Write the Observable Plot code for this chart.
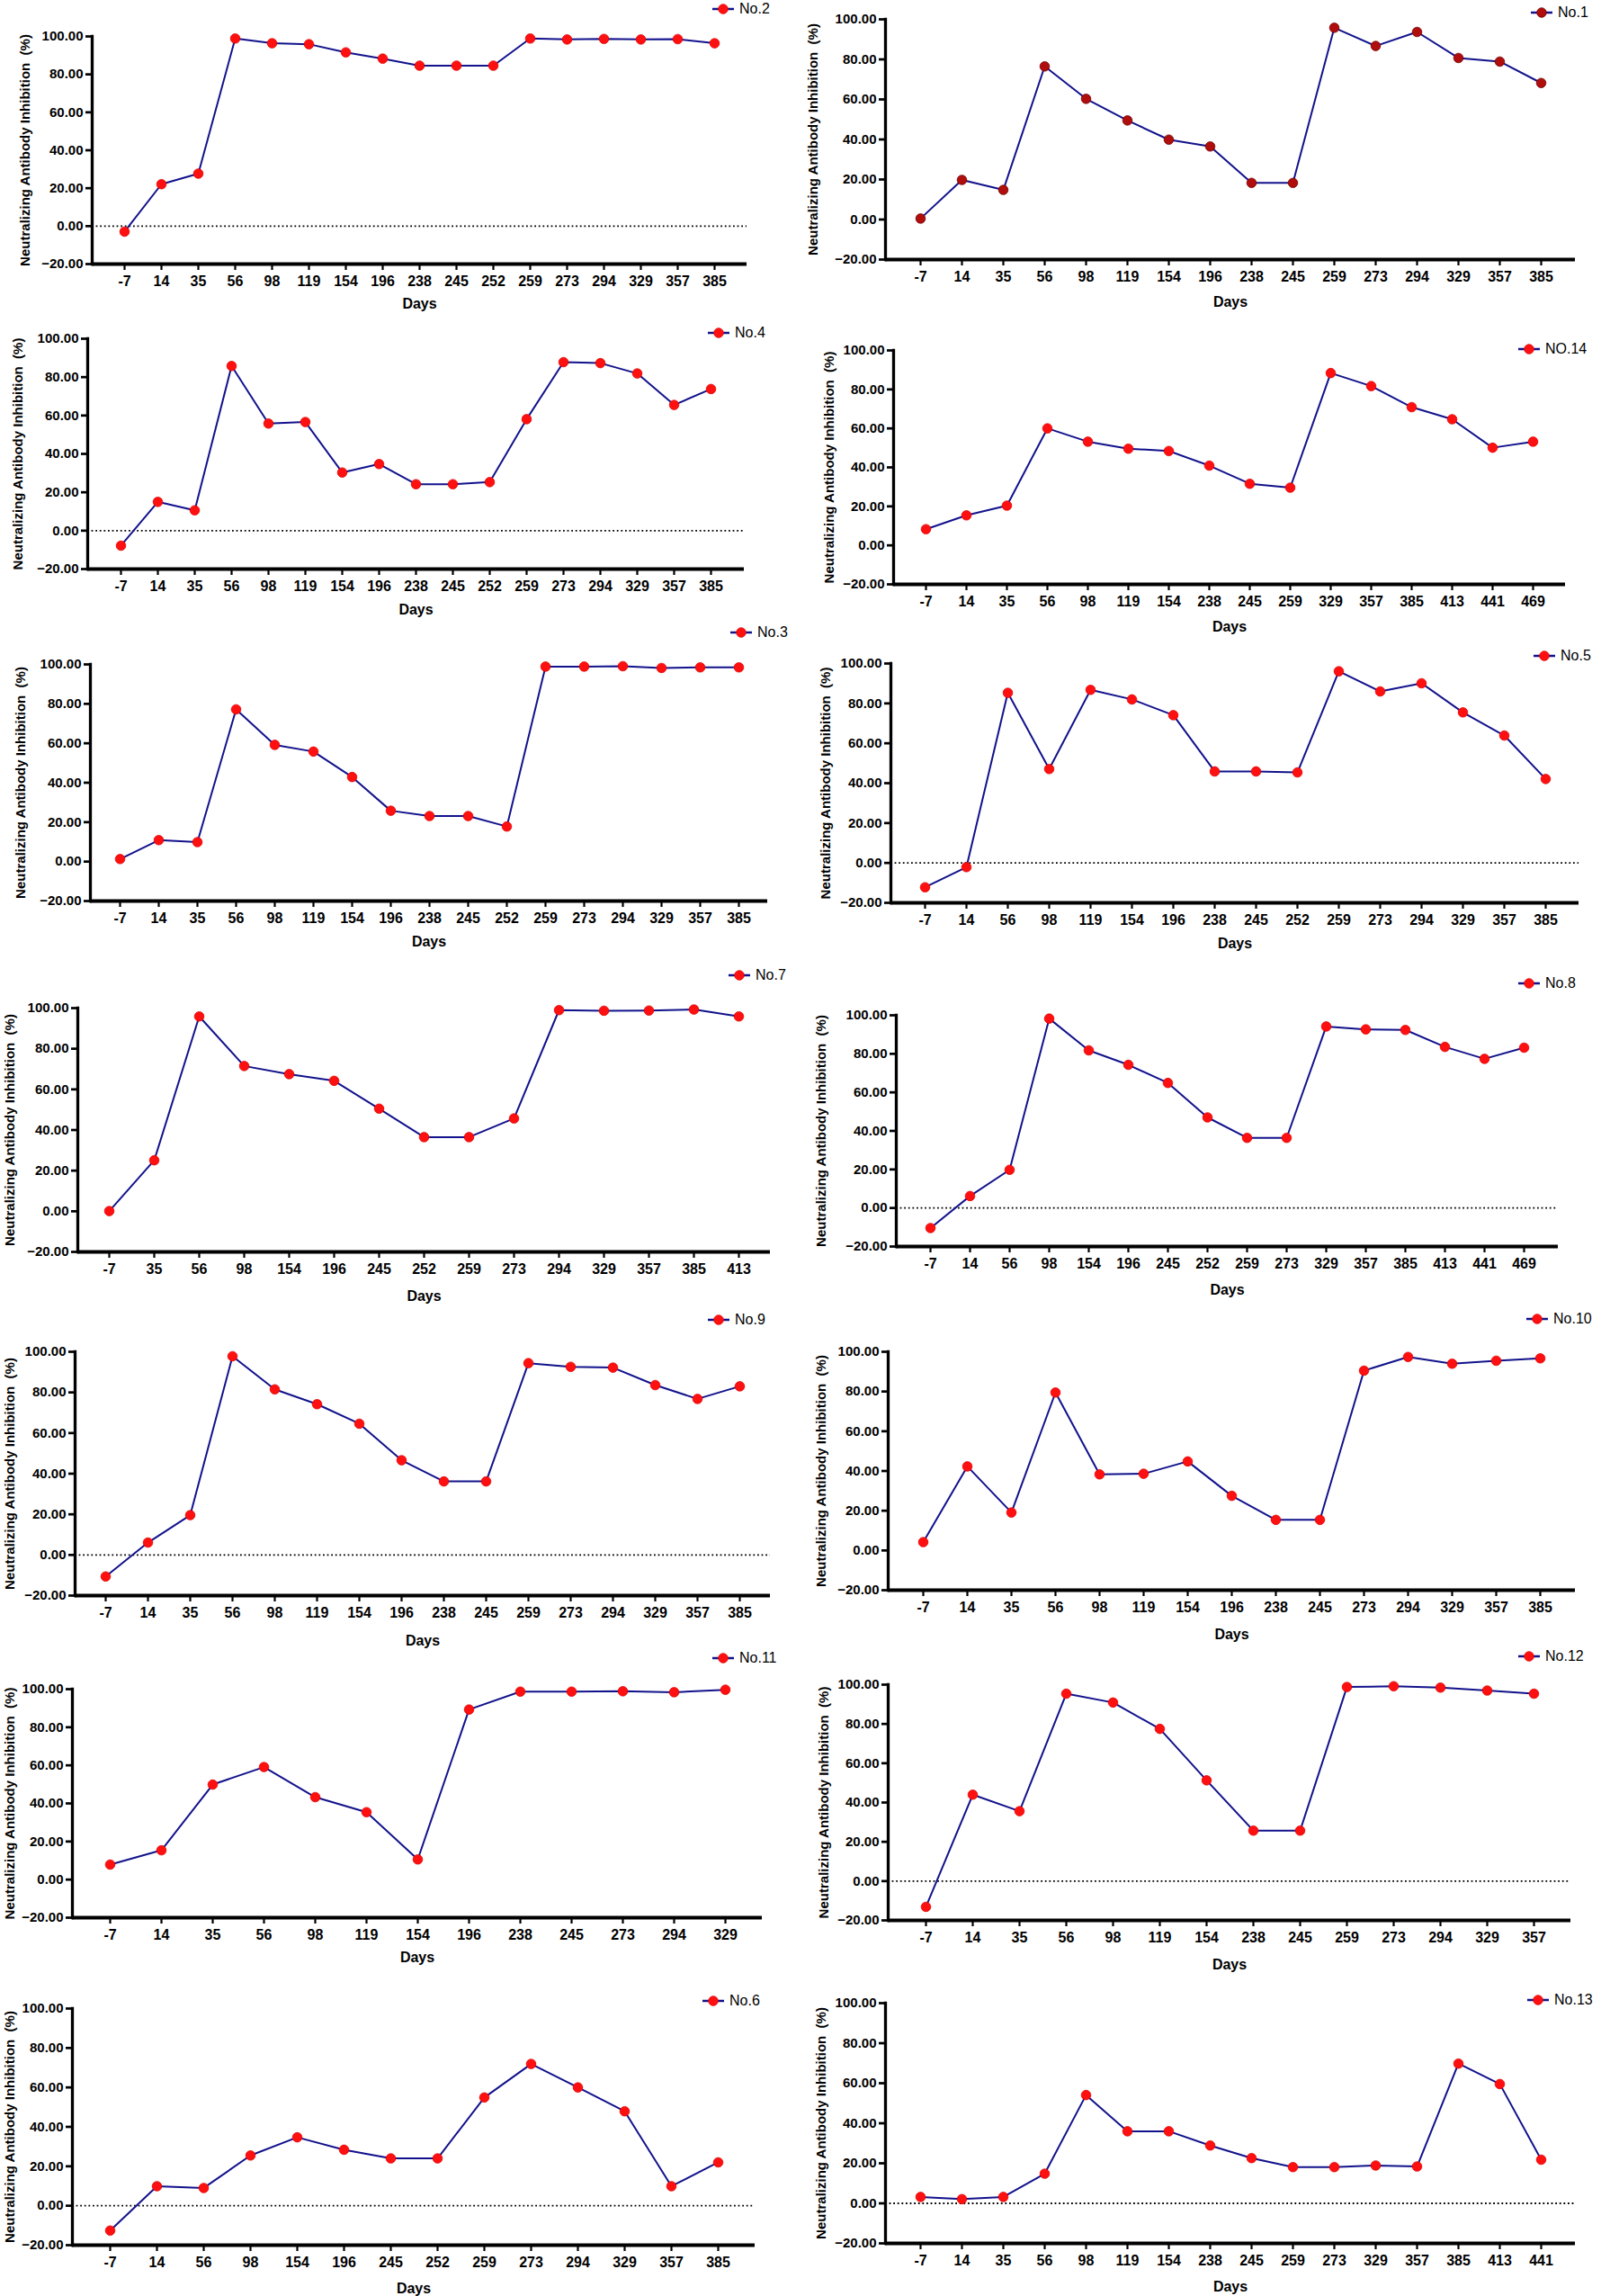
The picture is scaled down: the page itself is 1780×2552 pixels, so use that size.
<!DOCTYPE html>
<html>
<head>
<meta charset="utf-8">
<script src="https://cdn.jsdelivr.net/npm/d3@7"></script>
<script src="https://cdn.jsdelivr.net/npm/@observablehq/plot@0.6"></script>
<style>
  html, body { margin: 0; padding: 0; background: #fff; }
  #page { position: relative; width: 1780px; height: 2552px; overflow: hidden; background: #fff; }
  .panel { position: absolute; }
  .legend { position: absolute; display: flex; align-items: center; font-family: "Liberation Sans", Arial, sans-serif; font-size: 16px; color: #000; white-space: nowrap; }
  .legend svg { display: block; margin-right: 4px; }
  g[aria-label="ytitle"] text { letter-spacing: 0.6px; }
</style>
</head>
<body>
<div id="page"></div>
<script>
// ---------- DATA ----------
const days_no2  = [-7, 14, 35, 56, 98, 119, 154, 196, 238, 245, 252, 259, 273, 294, 329, 357, 385];
const vals_no2  = [-2.9, 22.1, 27.7, 98.9, 96.4, 95.9, 91.6, 88.3, 84.6, 84.6, 84.6, 98.9, 98.4, 98.7, 98.4, 98.6, 96.4];

const days_no1  = [-7, 14, 35, 56, 98, 119, 154, 196, 238, 245, 259, 273, 294, 329, 357, 385];
const vals_no1  = [0.5, 19.8, 14.8, 76.5, 60.3, 49.5, 39.9, 36.5, 18.3, 18.3, 95.8, 86.7, 93.7, 80.7, 78.9, 68.2];

const days_no4  = [-7, 14, 35, 56, 98, 119, 154, 196, 238, 245, 252, 259, 273, 294, 329, 357, 385];
const vals_no4  = [-7.8, 15.0, 10.6, 85.8, 55.8, 56.6, 30.3, 34.7, 24.2, 24.2, 25.3, 58.1, 87.8, 87.3, 81.9, 65.5, 73.8];

const days_no14 = [-7, 14, 35, 56, 98, 119, 154, 238, 245, 259, 329, 357, 385, 413, 441, 469];
const vals_no14 = [8.3, 15.4, 20.4, 60.0, 53.2, 49.6, 48.4, 40.9, 31.6, 29.6, 88.4, 81.7, 70.9, 64.7, 50.1, 53.2];

const days_no3  = [-7, 14, 35, 56, 98, 119, 154, 196, 238, 245, 252, 259, 273, 294, 329, 357, 385];
const vals_no3  = [1.3, 10.9, 9.9, 77.2, 59.2, 55.8, 42.9, 25.8, 23.1, 23.1, 17.8, 98.9, 98.9, 99.1, 98.2, 98.5, 98.5];

const days_no5  = [-7, 14, 56, 98, 119, 154, 196, 238, 245, 252, 259, 273, 294, 329, 357, 385];
const vals_no5  = [-12.2, -2.1, 85.3, 47.1, 86.8, 82.0, 74.1, 45.9, 45.9, 45.4, 96.1, 86.0, 90.1, 75.5, 63.9, 42.1];

const days_no7  = [-7, 35, 56, 98, 154, 196, 245, 252, 259, 273, 294, 329, 357, 385, 413];
const vals_no7  = [0.1, 25.1, 95.9, 71.5, 67.5, 64.2, 50.5, 36.5, 36.5, 45.7, 99.0, 98.7, 98.8, 99.3, 95.9];

const days_no8  = [-7, 14, 56, 98, 154, 196, 245, 252, 259, 273, 329, 357, 385, 413, 441, 469];
const vals_no8  = [-10.4, 6.2, 19.8, 98.3, 81.8, 74.3, 64.9, 47.0, 36.4, 36.4, 94.2, 92.7, 92.4, 83.6, 77.4, 83.2];

const days_no9  = [-7, 14, 35, 56, 98, 119, 154, 196, 238, 245, 259, 273, 294, 329, 357, 385];
const vals_no9  = [-10.6, 6.1, 19.6, 97.8, 81.5, 74.2, 64.6, 46.6, 36.2, 36.2, 94.4, 92.6, 92.2, 83.6, 76.8, 83.0];

const days_no10 = [-7, 14, 35, 56, 98, 119, 154, 196, 238, 245, 273, 294, 329, 357, 385];
const vals_no10 = [4.2, 42.3, 19.1, 79.5, 38.3, 38.6, 44.8, 27.5, 15.4, 15.4, 90.5, 97.4, 94.0, 95.5, 96.7];

const days_no11 = [-7, 14, 35, 56, 98, 119, 154, 196, 238, 245, 273, 294, 329];
const vals_no11 = [7.9, 15.4, 49.9, 59.1, 43.3, 35.4, 10.6, 89.3, 98.7, 98.7, 98.9, 98.4, 99.7];

const days_no12 = [-7, 14, 35, 56, 98, 119, 154, 238, 245, 259, 273, 294, 329, 357];
const vals_no12 = [-13.1, 44.0, 35.6, 95.4, 90.9, 77.5, 51.3, 25.7, 25.7, 98.8, 99.2, 98.5, 97.0, 95.4];

const days_no6  = [-7, 14, 56, 98, 154, 196, 245, 252, 259, 273, 294, 329, 357, 385];
const vals_no6  = [-12.6, 9.9, 9.0, 25.5, 34.7, 28.4, 24.0, 24.0, 54.9, 71.9, 60.0, 47.9, 9.9, 22.0];

const days_no13 = [-7, 14, 35, 56, 98, 119, 154, 238, 245, 259, 273, 329, 357, 385, 413, 441];
const vals_no13 = [3.2, 2.1, 3.2, 14.8, 54.1, 36.0, 36.0, 28.9, 22.6, 18.1, 18.1, 18.9, 18.4, 69.8, 59.6, 21.8];

const yTicks = [-20, 0, 20, 40, 60, 80, 100];
const yTitle = "Neutralizing Antibody Inhibition\u00A0\u00A0(%)";
const xTitle = "Days";

// ---------- PANELS (order + layout) ----------
const panels = [
  {name: "No.2",  days: days_no2,  vals: vals_no2},
  {name: "No.1",  days: days_no1,  vals: vals_no1},
  {name: "No.4",  days: days_no4,  vals: vals_no4},
  {name: "NO.14", days: days_no14, vals: vals_no14},
  {name: "No.3",  days: days_no3,  vals: vals_no3},
  {name: "No.5",  days: days_no5,  vals: vals_no5},
  {name: "No.7",  days: days_no7,  vals: vals_no7},
  {name: "No.8",  days: days_no8,  vals: vals_no8},
  {name: "No.9",  days: days_no9,  vals: vals_no9},
  {name: "No.10", days: days_no10, vals: vals_no10},
  {name: "No.11", days: days_no11, vals: vals_no11},
  {name: "No.12", days: days_no12, vals: vals_no12},
  {name: "No.6",  days: days_no6,  vals: vals_no6},
  {name: "No.13", days: days_no13, vals: vals_no13}
];

// layout: ax = y-axis x, xe = x-axis end, y100/ym20 = pixel rows of 100 and -20,
// daysY = "Days" row, tx = title offset, lx/ly = legend marker centre, zero = dotted zero line
const layout = {
  "No.2":  {ax: 102, xe: 830,  y100: 40,   ym20: 293,  daysY: 337,  tx: 74, lx: 804,  ly: 10,   zero: true,  left: true},
  "No.1":  {ax: 984, xe: 1751, y100: 21,   ym20: 288,  daysY: 335,  tx: 80, lx: 1714, ly: 14,   zero: false, left: false, dark: true},
  "No.4":  {ax: 97,  xe: 827,  y100: 376,  ym20: 632,  daysY: 677,  tx: 77, lx: 799,  ly: 370,  zero: true,  left: true},
  "NO.14": {ax: 993, xe: 1740, y100: 389,  ym20: 649,  daysY: 696,  tx: 71, lx: 1700, ly: 388,  zero: false, left: false},
  "No.3":  {ax: 100, xe: 853,  y100: 738,  ym20: 1001, daysY: 1046, tx: 77, lx: 824,  ly: 703,  zero: false, left: true},
  "No.5":  {ax: 990, xe: 1755, y100: 737,  ym20: 1003, daysY: 1048, tx: 72, lx: 1717, ly: 729,  zero: true,  left: false},
  "No.7":  {ax: 86,  xe: 856,  y100: 1120, ym20: 1391, daysY: 1440, tx: 75, lx: 822,  ly: 1084, zero: false, left: true},
  "No.8":  {ax: 996, xe: 1732, y100: 1128, ym20: 1385, daysY: 1433, tx: 83, lx: 1700, ly: 1093, zero: true,  left: false},
  "No.9":  {ax: 83,  xe: 856,  y100: 1502, ym20: 1773, daysY: 1823, tx: 72, lx: 799,  ly: 1467, zero: true,  left: true},
  "No.10": {ax: 987, xe: 1751, y100: 1502, ym20: 1767, daysY: 1816, tx: 74, lx: 1709, ly: 1466, zero: false, left: false},
  "No.11": {ax: 80,  xe: 847,  y100: 1877, ym20: 2131, daysY: 2175, tx: 69, lx: 804,  ly: 1843, zero: false, left: true},
  "No.12": {ax: 987, xe: 1746, y100: 1872, ym20: 2134, daysY: 2183, tx: 71, lx: 1700, ly: 1841, zero: true,  left: false},
  "No.6":  {ax: 80,  xe: 839,  y100: 2232, ym20: 2495, daysY: 2543, tx: 69, lx: 793,  ly: 2224, zero: true,  left: true},
  "No.13": {ax: 984, xe: 1751, y100: 2226, ym20: 2493, daysY: 2541, tx: 71, lx: 1710, ly: 2223, zero: true,  left: false}
};

const LINE = "#12128c";
const RED = "#ff1010";
const DARKRED = "#b00d0d";
const FONT = "'Liberation Sans', Arial, Helvetica, sans-serif";

const page = document.getElementById("page");

for (const p of panels) {
  const L = layout[p.name];
  const ML = L.left ? L.ax : 100;
  const MT = 30, MB = 75, MR = 20;
  const width = (L.xe - L.ax) + ML + MR;
  const height = (L.ym20 - L.y100) + MT + MB;
  const data = p.days.map((d, i) => ({day: String(d), v: p.vals[i]}));
  const fill = L.dark ? DARKRED : RED;
  const stroke = L.dark ? "#700000" : "#e00000";

  const marks = [];
  if (L.zero) {
    marks.push(Plot.ruleY([0], {stroke: "#000", strokeWidth: 1.8, strokeDasharray: "1.8,2.8"}));
  }
  marks.push(
    Plot.axisY({ticks: yTicks, tickFormat: d3.format(".2f"), tickSize: 7, tickPadding: 3,
                strokeWidth: 2.7, fontSize: 15, fontWeight: "bold", label: null}),
    Plot.axisX({tickSize: 7, tickPadding: 6, strokeWidth: 2.2, fontSize: 16, fontWeight: "bold", label: null}),
    Plot.frame({anchor: "left", stroke: "#000", strokeWidth: 3.3}),
    Plot.ruleY([-20], {stroke: "#000", strokeWidth: 4}),
    Plot.line(data, {x: "day", y: "v", stroke: LINE, strokeWidth: 2}),
    Plot.dot(data, {x: "day", y: "v", r: 5.3, fill: fill, stroke: stroke, strokeWidth: 0.8}),
    Plot.text([xTitle], {text: d => d, frameAnchor: "bottom", dy: L.daysY - L.ym20, lineAnchor: "middle",
                         fontSize: 16, fontWeight: "bold", fill: "#000"}),
    Plot.text([yTitle], {text: d => d, frameAnchor: "left", dx: -L.tx, rotate: -90, lineAnchor: "middle",
                         textAnchor: "middle", fontSize: 15, fontWeight: "bold", fill: "#000", ariaLabel: "ytitle"})
  );

  const chart = Plot.plot({
    width, height,
    marginLeft: ML, marginRight: MR, marginTop: MT, marginBottom: MB,
    style: {fontFamily: FONT, color: "#000", background: "transparent", overflow: "visible"},
    x: {type: "point", domain: p.days.map(String), padding: 0.7, label: null},
    y: {domain: [-20, 100], label: null},
    marks
  });

  const wrap = document.createElement("div");
  wrap.className = "panel";
  wrap.style.left = (L.ax - ML) + "px";
  wrap.style.top = (L.y100 - MT) + "px";
  wrap.appendChild(chart);
  page.appendChild(wrap);

  // legend
  const lg = document.createElement("div");
  lg.className = "legend";
  lg.style.left = (L.lx - 14) + "px";
  lg.style.top = (L.ly - 10) + "px";
  lg.style.height = "20px";
  lg.innerHTML = `<svg width="28" height="20"><line x1="2" x2="26" y1="10" y2="10" stroke="${LINE}" stroke-width="2.5"/>` +
                 `<circle cx="14" cy="10" r="5.3" fill="${fill}" stroke="${stroke}" stroke-width="0.8"/></svg>` +
                 `<span>${p.name}</span>`;
  page.appendChild(lg);
}
</script>
</body>
</html>
